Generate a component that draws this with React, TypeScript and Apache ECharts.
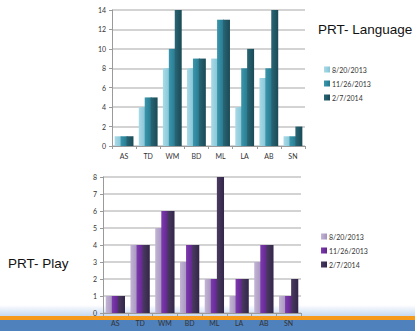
import React, { useEffect, useRef } from "react";
import * as echarts from "echarts";

const categories = ["AS", "TD", "WM", "BD", "ML", "LA", "AB", "SN"];
const dates = ["8/20/2013", "11/26/2013", "2/7/2014"];

const langAug = [1, 4, 8, 8, 9, 4, 7, 1];
const langNov = [1, 5, 10, 9, 13, 8, 8, 1];
const langFeb = [1, 5, 14, 9, 13, 10, 14, 2];

const playAug = [1, 4, 5, 3, 2, 1, 3, 1];
const playNov = [1, 4, 6, 4, 2, 2, 4, 1];
const playFeb = [1, 4, 6, 4, 8, 2, 4, 2];

const langColors = [
  ["#a9dbe8", "#86c3d4"],
  ["#3a97ad", "#27788d"],
  ["#2a6676", "#1a4a56"],
];
const playColors = [
  ["#c3b5d6", "#a493bb"],
  ["#7d3bb0", "#5f2489"],
  ["#4a3a60", "#33264a"],
];

const grad = (c: string[]) =>
  new echarts.graphic.LinearGradient(0, 0, 1, 0, [
    { offset: 0, color: c[0] },
    { offset: 1, color: c[1] },
  ]);

const labelFont = "Lato, 'DejaVu Sans', sans-serif";

export default function App() {
  const ref = useRef<HTMLDivElement>(null);
  useEffect(() => {
    document.body.style.margin = "0";
    const chart = echarts.init(ref.current!, null, { renderer: "svg" });
    const axisLabel = { fontSize: 7, color: "#333", fontFamily: labelFont };
    const yBase = {
      type: "value" as const,
      min: 0,
      interval: 1,
      axisLine: { show: true, lineStyle: { color: "#9a9a9a" } },
      axisTick: { show: true, length: 3, lineStyle: { color: "#9a9a9a" } },
      splitLine: { show: true, lineStyle: { color: "#c4c4c4", width: 1.5 } },
      axisLabel: { ...axisLabel, margin: 6 },
    };
    const xBase = {
      type: "category" as const,
      data: categories,
      axisLine: { show: true, lineStyle: { color: "#9a9a9a" } },
      axisTick: { show: true, length: 3, lineStyle: { color: "#9a9a9a" } },
      axisLabel: { ...axisLabel, margin: 6 },
    };
    const names = ["l0", "l1", "l2", "p0", "p1", "p2"];
    const legendFmt = (n: string) => dates[Number(n.slice(1))];
    const mk = (name: string, data: number[], idx: number, c: string[]) => ({
      name,
      type: "bar" as const,
      data,
      xAxisIndex: idx,
      yAxisIndex: idx,
      barGap: "-15%",
      barCategoryGap: "22%",
      itemStyle: { color: grad(c) },
    });
    chart.setOption({
      animation: false,
      grid: [
        { left: 112, top: 10, width: 193, height: 136 },
        { left: 103, top: 177, width: 198, height: 136 },
      ],
      xAxis: [
        { ...xBase, gridIndex: 0 },
        { ...xBase, gridIndex: 1 },
      ],
      yAxis: [
        { ...yBase, gridIndex: 0, max: 14, interval: 2 },
        { ...yBase, gridIndex: 1, max: 8, interval: 1 },
      ],
      legend: [
        {
          data: names.slice(0, 3),
          orient: "vertical",
          left: 319,
          top: 61,
          icon: "rect",
          itemWidth: 6,
          itemHeight: 6,
          itemGap: 7,
          formatter: legendFmt,
          textStyle: { fontSize: 7, color: "#333", fontFamily: labelFont, padding: [0, 0, 0, -3] },
        },
        {
          data: names.slice(3),
          orient: "vertical",
          left: 316,
          top: 228,
          icon: "rect",
          itemWidth: 6,
          itemHeight: 6,
          itemGap: 7,
          formatter: legendFmt,
          textStyle: { fontSize: 7, color: "#333", fontFamily: labelFont, padding: [0, 0, 0, -3] },
        },
      ],
      series: [
        mk("l0", langAug, 0, langColors[0]),
        mk("l1", langNov, 0, langColors[1]),
        mk("l2", langFeb, 0, langColors[2]),
        mk("p0", playAug, 1, playColors[0]),
        mk("p1", playNov, 1, playColors[1]),
        mk("p2", playFeb, 1, playColors[2]),
      ],
      graphic: [
        {
          type: "rect",
          z: -10,
          shape: { x: 0, y: 305, width: 415, height: 11 },
          style: {
            fill: new echarts.graphic.LinearGradient(0, 0, 0, 1, [
              { offset: 0, color: "#ffffff" },
              { offset: 1, color: "#c6d9f1" },
            ]),
          },
        },
        {
          type: "rect",
          z: -10,
          shape: { x: 0, y: 316, width: 415, height: 4 },
          style: { fill: "#f59a1a" },
        },
        {
          type: "rect",
          z: -10,
          shape: { x: 0, y: 320, width: 415, height: 11 },
          style: { fill: "#4f81bd" },
        },
        {
          type: "text",
          left: 318,
          top: 22,
          style: {
            text: "PRT- Language",
            fontSize: 13.5,
            fill: "#111",
            fontFamily: "'Liberation Sans', Arial, sans-serif",
          },
        },
        {
          type: "text",
          left: 8,
          top: 256,
          style: {
            text: "PRT- Play",
            fontSize: 13.5,
            fill: "#111",
            fontFamily: "'Liberation Sans', Arial, sans-serif",
          },
        },
      ],
    });
    return () => chart.dispose();
  }, []);
  return (
    <div
      ref={ref}
      style={{ position: "absolute", left: 0, top: 0, width: 415, height: 331, background: "#fff" }}
    />
  );
}
